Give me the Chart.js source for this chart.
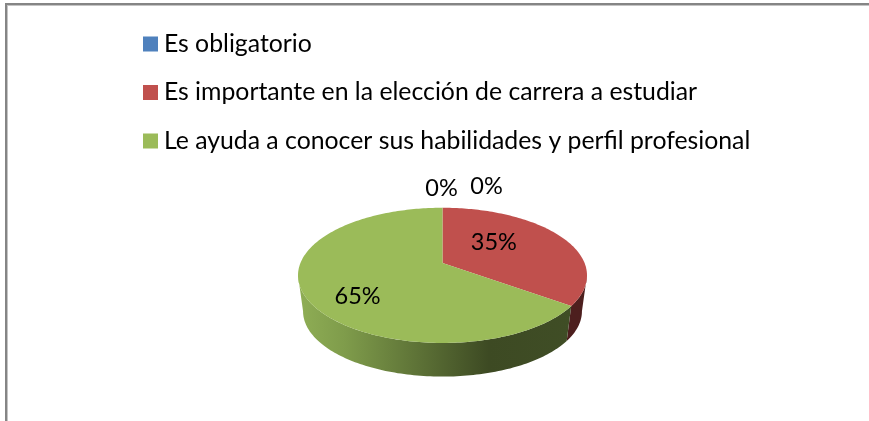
<!DOCTYPE html>
<html>
<head>
<meta charset="utf-8">
<script src="https://cdn.jsdelivr.net/npm/chart.js@4"></script>
<style>
html, body { margin: 0; padding: 0; background: #fff; overflow: hidden; }
#frame { position: absolute; left: 5px; top: 3px; width: 900px; height: 500px; border: 2px solid #858585; box-shadow: inset 1px 1px 0 #c4c4c4; }
#wrap { position: absolute; left: 120px; top: 0; width: 660px; height: 421px; }
</style>
</head>
<body>
<div id="frame"></div>
<div id="wrap"><canvas id="pie"></canvas></div>
<script>
// Datos
const categories = ['Es obligatorio', 'Es importante en la elección de carrera a estudiar', 'Le ayuda a conocer sus habilidades y perfil profesional', ''];
const values = [0, 35, 65, 0];
const colors = ['#4F81BD', '#C0504D', '#9BBB59', '#8064A2'];
const labelShift = [[44, -41], [-21, -4], [-5, 15], [-1, -39]];

const fontName = 'Lato, Carlito, Calibri, sans-serif';
const rx = 144.5, ry = 67.6;   // elipse de la cara superior
const apexUp = 12.3;           // el vertice queda arriba del centro (perspectiva)
const depth = 36, shrink = 0.965;
const k = -apexUp / ry;
const A = rx * Math.sqrt(1 - k * k);

// Pasa un punto del disco unitario a la cara en perspectiva
function project(cx, cy, angle, f) {
    const x = Math.cos(angle) * f, y = Math.sin(angle) * f;
    const w = 1 + k * y;
    return { x: cx + A * x / w, y: cy + (ry * y - apexUp) / w };
}

function rimPoints(arc, from, to) {
    const pts = [];
    const n = Math.max(2, Math.ceil((to - from) / 0.02));
    for (let i = 0; i <= n; i++) {
        pts.push(project(arc.x, arc.y, from + (to - from) * i / n, 1));
    }
    return pts;
}

const pie3d = {
    id: 'pie3d',
    beforeDatasetsDraw(chart) {
        const ctx = chart.ctx;
        const arcs = chart.getDatasetMeta(0).data;
        const frontStart = Math.asin(-k), frontEnd = Math.PI - frontStart;

        // Pared lateral
        arcs.forEach(function(arc, i) {
            if (values[i] === 0) return;
            const from = Math.max(arc.startAngle, frontStart);
            const to = Math.min(arc.endAngle, frontEnd);
            if (to <= from) return;
            const top = rimPoints(arc, from, to);
            const toBottom = p => ({ x: arc.x + (p.x - arc.x) * shrink, y: arc.y + (p.y - arc.y) * shrink + depth });
            const grad = ctx.createLinearGradient(arc.x - rx, 0, arc.x + rx, 0);
            if (i === 1) {
                grad.addColorStop(0, '#4d1f1e');
                grad.addColorStop(1, '#4d1f1e');
            } else {
                grad.addColorStop(0, '#8fae55');
                grad.addColorStop(0.16, '#7f9c4b');
                grad.addColorStop(0.66, '#3d4a23');
                grad.addColorStop(1, '#404e26');
            }
            ctx.fillStyle = grad;
            ctx.beginPath();
            top.forEach((p, j) => j ? ctx.lineTo(p.x, p.y) : ctx.moveTo(p.x, p.y));
            top.slice().reverse().forEach(p => { const b = toBottom(p); ctx.lineTo(b.x, b.y); });
            ctx.closePath();
            ctx.fill();
        });

        // Cara superior
        arcs.forEach(function(arc, i) {
            if (values[i] === 0) return;
            const apex = project(arc.x, arc.y, 0, 0);
            ctx.fillStyle = colors[i];
            ctx.beginPath();
            ctx.moveTo(apex.x, apex.y);
            rimPoints(arc, arc.startAngle, arc.endAngle).forEach(p => ctx.lineTo(p.x, p.y));
            ctx.closePath();
            ctx.fill();
        });

        // Etiquetas de porcentaje
        const total = values.reduce((a, b) => a + b, 0);
        ctx.fillStyle = '#000';
        ctx.font = '23.5px ' + fontName;
        ctx.textAlign = 'center';
        ctx.textBaseline = 'middle';
        arcs.forEach(function(arc, i) {
            const p = project(arc.x, arc.y, (arc.startAngle + arc.endAngle) / 2, 0.6);
            ctx.fillText(Math.round(values[i] / total * 100) + '%', p.x + labelShift[i][0], p.y + labelShift[i][1]);
        });
        return false;
    }
};

new Chart(document.getElementById('pie'), {
    type: 'pie',
    data: {
        labels: categories,
        datasets: [{ data: values, backgroundColor: colors, borderWidth: 0 }]
    },
    options: {
        responsive: true,
        maintainAspectRatio: false,
        animation: false,
        layout: { padding: { left: 5.8, right: 20.8, top: 7.9, bottom: 33.7 } },
        plugins: {
            tooltip: { enabled: false },
            legend: {
                position: 'top',
                align: 'start',
                labels: {
                    font: { family: fontName, size: 24.8 },
                    color: '#000',
                    boxWidth: 2,
                    boxHeight: 2,
                    padding: 23.7,
                    generateLabels(chart) {
                        // caja de 15px hecha con trazo, asi el texto queda mas cerca
                        return categories.map((c, i) => ({
                            text: c, index: i, fillStyle: colors[i], strokeStyle: colors[i],
                            lineWidth: 13, lineJoin: 'miter', hidden: false, fontColor: '#000'
                        })).filter(item => item.text !== '');
                    }
                }
            }
        }
    },
    plugins: [pie3d]
});
</script>
</body>
</html>
